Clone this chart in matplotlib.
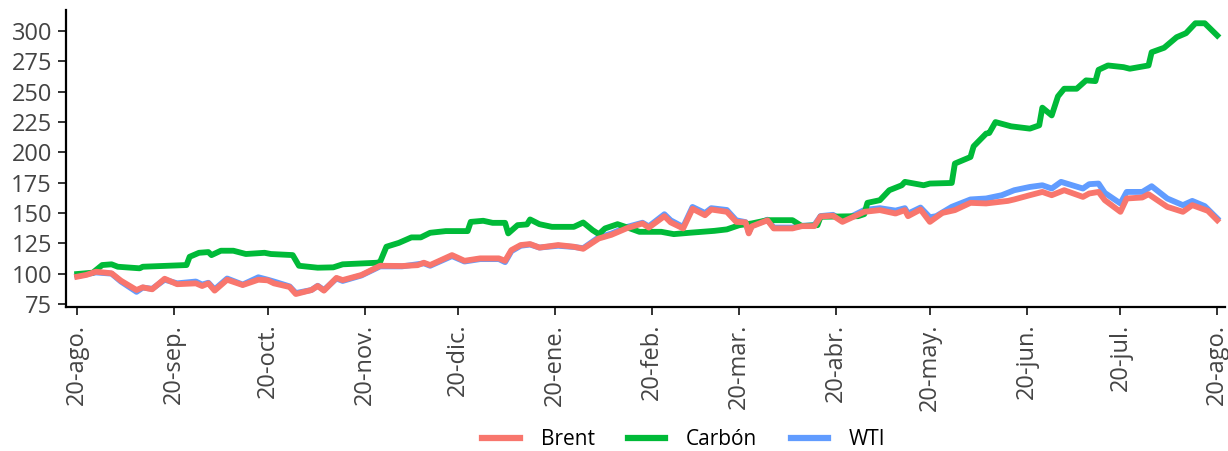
import numpy as np
import pandas as pd
import matplotlib
matplotlib.use('Agg')
import matplotlib.pyplot as plt

# Datos (indice base 20-ago-2020 = 100), dias desde el inicio
inicio = pd.Timestamp('2020-08-20')

dias_brent = [0, 3, 6, 11, 14, 19, 21, 24, 28, 32, 38, 40, 42, 44, 48, 53, 58, 61, 63, 68,
              70, 75, 77, 79, 83, 85, 91, 97, 104, 109, 111, 113, 120, 124, 129, 135, 137, 139,
              142, 145, 148, 154, 159, 162, 167, 171, 176, 181, 183, 188, 190, 194, 197, 201,
              203, 208, 211, 214, 215, 216, 221, 223, 229, 232, 236, 238, 242, 245, 252, 257,
              262, 265, 266, 270, 273, 277, 281, 286, 291, 298, 300, 305, 309, 312, 316, 322,
              324, 327, 329, 334, 336, 341, 343, 349, 354, 357, 362, 365]
brent = [97.5, 99, 101.6, 100.3, 94.2, 86.5, 88.7, 87.1, 95.8, 91.3, 92.0, 89.8, 92.0, 86.0,
         95.0, 90.6, 95.0, 94.5, 92.0, 89.0, 83.2, 86.5, 89.8, 86.0, 96.5, 94.7, 98.9, 106.5,
         106.3, 107, 109.0, 107.1, 115.3, 110.6, 112.6, 112.6, 110.6, 119.4, 123.6, 124.4,
         121.5, 123.6, 122.2, 120.5, 129.0, 132, 137.5, 141.4, 138, 147.4, 142.3, 137.3, 153.5,
         148.2, 152.9, 151.0, 142.7, 142.3, 133.2, 139, 144, 137.3, 137.3, 139.2, 139.2, 147.2,
         147.8, 142.7, 151, 152.4, 149.6, 152.4, 147.4, 152.9, 142.7, 150.1, 152.4, 158.4,
         157.9, 160.0, 161.2, 164.7, 167.4, 164.7, 168.8, 163.3, 166.1, 167.4, 160.6, 151.0,
         162.0, 162.8, 165.5, 155.1, 151.0, 156.5, 151.8, 144.1]

dias_wti = [0, 6, 11, 14, 19, 21, 24, 28, 32, 38, 40, 42, 44, 48, 53, 58, 61, 63, 68, 70, 75,
            77, 79, 83, 85, 91, 97, 104, 111, 113, 120, 124, 129, 135, 137, 139, 142, 145, 148,
            154, 159, 162, 167, 171, 176, 181, 183, 188, 190, 194, 197, 201, 203, 208, 211, 214,
            215, 216, 221, 223, 229, 232, 236, 238, 242, 245, 252, 257, 262, 265, 266, 270, 273,
            275, 280, 286, 291, 296, 300, 305, 309, 312, 315, 322, 324, 327, 329, 334, 336, 341,
            344, 349, 354, 357, 361, 365]
wti = [98, 101, 100, 93.5, 85, 88.5, 87.5, 95, 92, 93.5, 91, 92.5, 87, 96, 91, 97, 95, 93.5,
       89.5, 84, 86.5, 90, 86.5, 96, 94, 98.5, 106, 106, 108.5, 106.5, 114.5, 110, 112, 112,
       109.5, 118.5, 123, 124, 121.5, 123, 122, 121, 130, 133, 138.5, 142, 139, 149, 144, 138.5,
       155, 150, 154, 152.5, 144, 142.5, 134, 139.5, 144.5, 138, 138, 139.5, 140, 147.5, 148.5,
       143.5, 152.5, 154, 152, 154, 149.5, 154.5, 146.5, 147.4, 155.1, 161.2, 162, 164.7, 168.8,
       171.5, 172.9, 170.2, 175.7, 170.2, 173.8, 174.3, 166.6, 157.9, 167.4, 167.4, 172.1,
       162.0, 156.5, 160.0, 155.7, 145.5]

dias_carbon = [0, 5, 8, 11, 13, 20, 21, 35, 36, 39, 42, 43, 46, 50, 54, 60, 62, 69, 71, 77, 82,
               85, 96, 97, 99, 103, 107, 110, 113, 118, 125, 126, 130, 133, 137, 138, 141, 144,
               145, 148, 152, 159, 162, 165, 167, 169, 173, 177, 180, 187, 191, 196, 204, 208,
               212, 216, 221, 229, 232, 237, 238, 250, 252, 253, 257, 260, 264, 265, 271, 273,
               280, 281, 286, 287, 291, 292, 294, 299, 305, 308, 309, 312, 314, 316, 320, 323,
               326, 327, 330, 335, 337, 343, 344, 348, 352, 355, 358, 361, 365]
carbon = [99.7, 100.8, 107.1, 107.7, 105.7, 104.4, 105.7, 107.1, 113.9, 117.2, 117.8, 115.3,
          118.9, 118.9, 116.2, 117.2, 116.2, 115.3, 106.5, 104.9, 105.2, 107.7, 109.0, 109.8,
          122.2, 125.4, 129.9, 129.9, 133.7, 135.1, 135.1, 142.7, 143.6, 141.9, 141.9, 133.2,
          140.0, 140.6, 144.7, 140.8, 138.6, 138.6, 142.2, 135.9, 132.6, 137.3, 140.8, 137.3,
          134.5, 134.5, 132.6, 133.7, 135.3, 136.5, 140, 141.4, 144.1, 144.1, 139.2, 140, 146.9,
          147.4, 149.1, 158.4, 160.6, 168.8, 172.9, 175.7, 172.9, 174.3, 174.8, 190.8, 196.2,
          205, 215.5, 216, 225, 221.5, 219.6, 222.3, 236.9, 230.5, 246.2, 252.5, 252.5, 259.4,
          258.8, 268.1, 271.7, 270.3, 269, 271.7, 282.6, 286.3, 295, 298.3, 306.5, 306.5, 296.4]

meses = ['ago.', 'sep.', 'oct.', 'nov.', 'dic.', 'ene.', 'feb.', 'mar.', 'abr.', 'may.',
         'jun.', 'jul.', 'ago.']

def fechas(d):
    return inicio + pd.to_timedelta(d, unit='D')

plt.rcParams['font.family'] = ['Open Sans', 'DejaVu Sans']

fig = plt.figure(figsize=(12.28, 4.51), dpi=100)
ax = fig.add_axes([0.0537, 0.3193, 0.9439, 0.6587])

lw = 4.2
ax.plot(fechas(dias_wti), wti, color='#619CFF', lw=lw, label='WTI', solid_joinstyle='round')
ax.plot(fechas(dias_carbon), carbon, color='#00BA38', lw=lw, label='Carbón', solid_joinstyle='round')
ax.plot(fechas(dias_brent), brent, color='#F8766D', lw=lw, label='Brent', solid_joinstyle='round')

ticks = [inicio + pd.DateOffset(months=i) for i in range(len(meses))]
ax.set_xticks(ticks)
ax.set_xticklabels(['20-' + m for m in meses], rotation=90)
ax.set_xlim(inicio - pd.Timedelta(days=3.6), inicio + pd.Timedelta(days=367.5))
ax.set_ylim(72.5, 317.5)
ax.set_yticks(np.arange(75, 301, 25))

for s in ['top', 'right']:
    ax.spines[s].set_visible(False)
for s in ['left', 'bottom']:
    ax.spines[s].set_linewidth(1.6)
ax.tick_params(axis='both', labelsize=17, labelcolor='#444444', color='#333333',
               length=6, width=1.4)
ax.tick_params(axis='x', pad=6)
ax.tick_params(axis='y', pad=4)

h, l = ax.get_legend_handles_labels()
orden = [2, 1, 0]
leg = fig.legend([h[i] for i in orden], [l[i] for i in orden], loc='center',
                 bbox_to_anchor=(0.557, 0.025), ncol=3, frameon=False, fontsize=15,
                 handlelength=1.8, columnspacing=1.6, handletextpad=1.0)
for line in leg.get_lines():
    line.set_linewidth(4.5)

fig.savefig('out.png', dpi=100)
